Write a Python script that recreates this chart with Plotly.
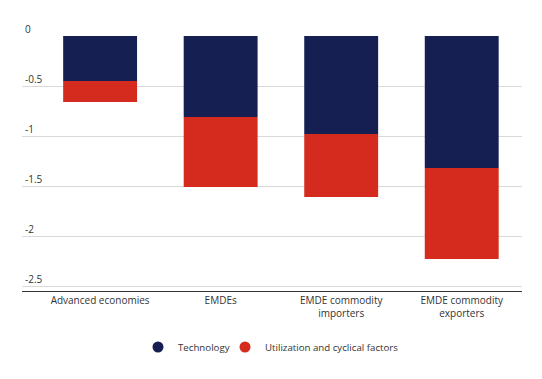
import plotly.graph_objects as go

categories = ["Advanced economies", "EMDEs", "EMDE commodity<br>importers", "EMDE commodity<br>exporters"]
technology = [-0.45, -0.81, -0.98, -1.32]
utilization = [-0.21, -0.70, -0.63, -0.91]
series_names = ["Technology", "Utilization and cyclical factors"]
colors = ["#161f52", "#d42b1e"]
ytick_vals = [0, -0.5, -1, -1.5, -2, -2.5]
ytick_text = ["0", "-0.5", "-1", "-1.5", "-2", "-2.5"]

FONT = "Open Sans"

fig = go.Figure()
for name, vals, col in zip(series_names, [technology, utilization], colors):
    fig.add_trace(go.Bar(x=categories, y=vals, name=name, marker=dict(color=col, line=dict(width=0)),
                         width=0.613, showlegend=False))
for name, col, lg in zip(series_names, colors, ["legend", "legend2"]):
    fig.add_trace(go.Scatter(x=[None], y=[None], mode="markers", name=name, legend=lg,
                             marker=dict(color=col, size=11, symbol="circle")))

legend_common = dict(orientation="h", xref="container", yref="container", xanchor="left",
                     yanchor="middle", y=1 - 347 / 379, font=dict(size=9.7, color="#333333"),
                     itemwidth=30, bgcolor="rgba(0,0,0,0)")

fig.update_layout(
    width=542, height=379,
    barmode="relative",
    plot_bgcolor="white", paper_bgcolor="white",
    margin=dict(l=22, r=19.5, t=21, b=88),
    font=dict(family=FONT, size=10, color="#333333"),
    legend=dict(legend_common, x=138 / 542),
    legend2=dict(legend_common, x=225 / 542),
    xaxis=dict(type="category", range=[-0.648, 3.5], showgrid=False, showline=True,
               linecolor="#333333", linewidth=1, ticks="", tickfont=dict(size=10, color="#333333")),
    yaxis=dict(range=[-2.55, 0.15], tickvals=ytick_vals, ticktext=ytick_text, showgrid=True,
               gridcolor="#d9d9d9", gridwidth=1, zeroline=True, zerolinecolor="white",
               zerolinewidth=2, showline=False,
               ticklabelposition="inside top", tickfont=dict(size=10, color="#333333")),
)

fig.write_html("out.html", config={"displayModeBar": False},
               post_script="document.body.style.margin='0';")
